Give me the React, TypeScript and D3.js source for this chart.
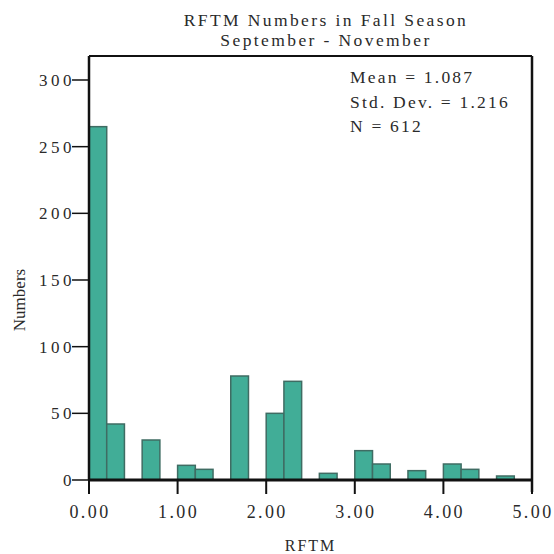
import * as d3 from 'd3'

// RFTM histogram, fall season (bin starts, width 0.2)
const BIN_STARTS = [0, 0.2, 0.6, 1.0, 1.2, 1.6, 2.0, 2.2, 2.6, 3.0, 3.2, 3.6, 4.0, 4.2, 4.6]
const COUNTS = [265, 42, 30, 11, 8, 78, 50, 74, 5, 22, 12, 7, 12, 8, 3]
const BIN_WIDTH = 0.2
const X_TICKS = [0, 1, 2, 3, 4, 5]
const Y_TICKS = [0, 50, 100, 150, 200, 250, 300]
const STATS = ['Mean = 1.087', 'Std. Dev. = 1.216', 'N = 612']
const TITLE = ['RFTM Numbers in Fall Season', 'September - November']

const W = 554
const H = 554
const FONT = '"Liberation Serif", "DejaVu Serif", serif'

export default function App() {
  const x = d3.scaleLinear().domain([0, 5]).range([89, 532])
  const y = d3.scaleLinear().domain([0, 300]).range([480, 80])
  const [left, right] = x.range()
  const top = 56
  const base = y(0)

  return (
    <svg width={W} height={H} style={{ position: 'absolute', left: 0, top: 0, background: '#fff' }}
      fontFamily={FONT} fill="#2a2a2a">
      {/* title */}
      {TITLE.map((t, i) => (
        <text key={t} x={326} y={26 + i * 20} textAnchor="middle" fontSize={17.5} letterSpacing={2.4}>{t}</text>
      ))}

      {/* bars */}
      {BIN_STARTS.map((b, i) => (
        <rect key={b} x={x(b)} y={y(COUNTS[i])} width={x(b + BIN_WIDTH) - x(b)} height={base - y(COUNTS[i])}
          fill="#41ad97" stroke="#3f6c63" strokeWidth={1.5} />
      ))}

      {/* frame */}
      <g stroke="#111" fill="none">
        <line x1={left} x2={right} y1={top} y2={top} strokeWidth={2} />
        <line x1={right} x2={right} y1={top} y2={base + 12} strokeWidth={2.5} />
        <line x1={left} x2={left} y1={top} y2={base} strokeWidth={2.5} />
        <line x1={left} x2={right} y1={base} y2={base} strokeWidth={3} />
      </g>

      {/* y axis (trailing letter spacing compensated) */}
      {Y_TICKS.map((t) => (
        <g key={t}>
          <line x1={left - 17} x2={left} y1={y(t)} y2={y(t)} stroke="#111" strokeWidth={1.5} />
          <text x={left - 14} y={y(t)} dy="0.35em" textAnchor="end" fontSize={17} letterSpacing={3.5}>{t}</text>
        </g>
      ))}
      <text transform={`translate(25,300) rotate(-90)`} textAnchor="middle" fontSize={17}>Numbers</text>

      {/* x axis */}
      {X_TICKS.map((t) => (
        <g key={t}>
          <line x1={x(t)} x2={x(t)} y1={base} y2={base + 14} stroke="#111" strokeWidth={2} />
          <text x={x(t) + 1} y={518} textAnchor="middle" fontSize={18} letterSpacing={2.4}>{t.toFixed(2)}</text>
        </g>
      ))}
      <text x={(left + right) / 2} y={551} textAnchor="middle" fontSize={16} letterSpacing={2}>RFTM</text>

      {/* stats */}
      {STATS.map((s, i) => (
        <text key={s} x={350} y={83 + i * 24.5} fontSize={17.5} letterSpacing={2.2}>{s}</text>
      ))}
    </svg>
  )
}
